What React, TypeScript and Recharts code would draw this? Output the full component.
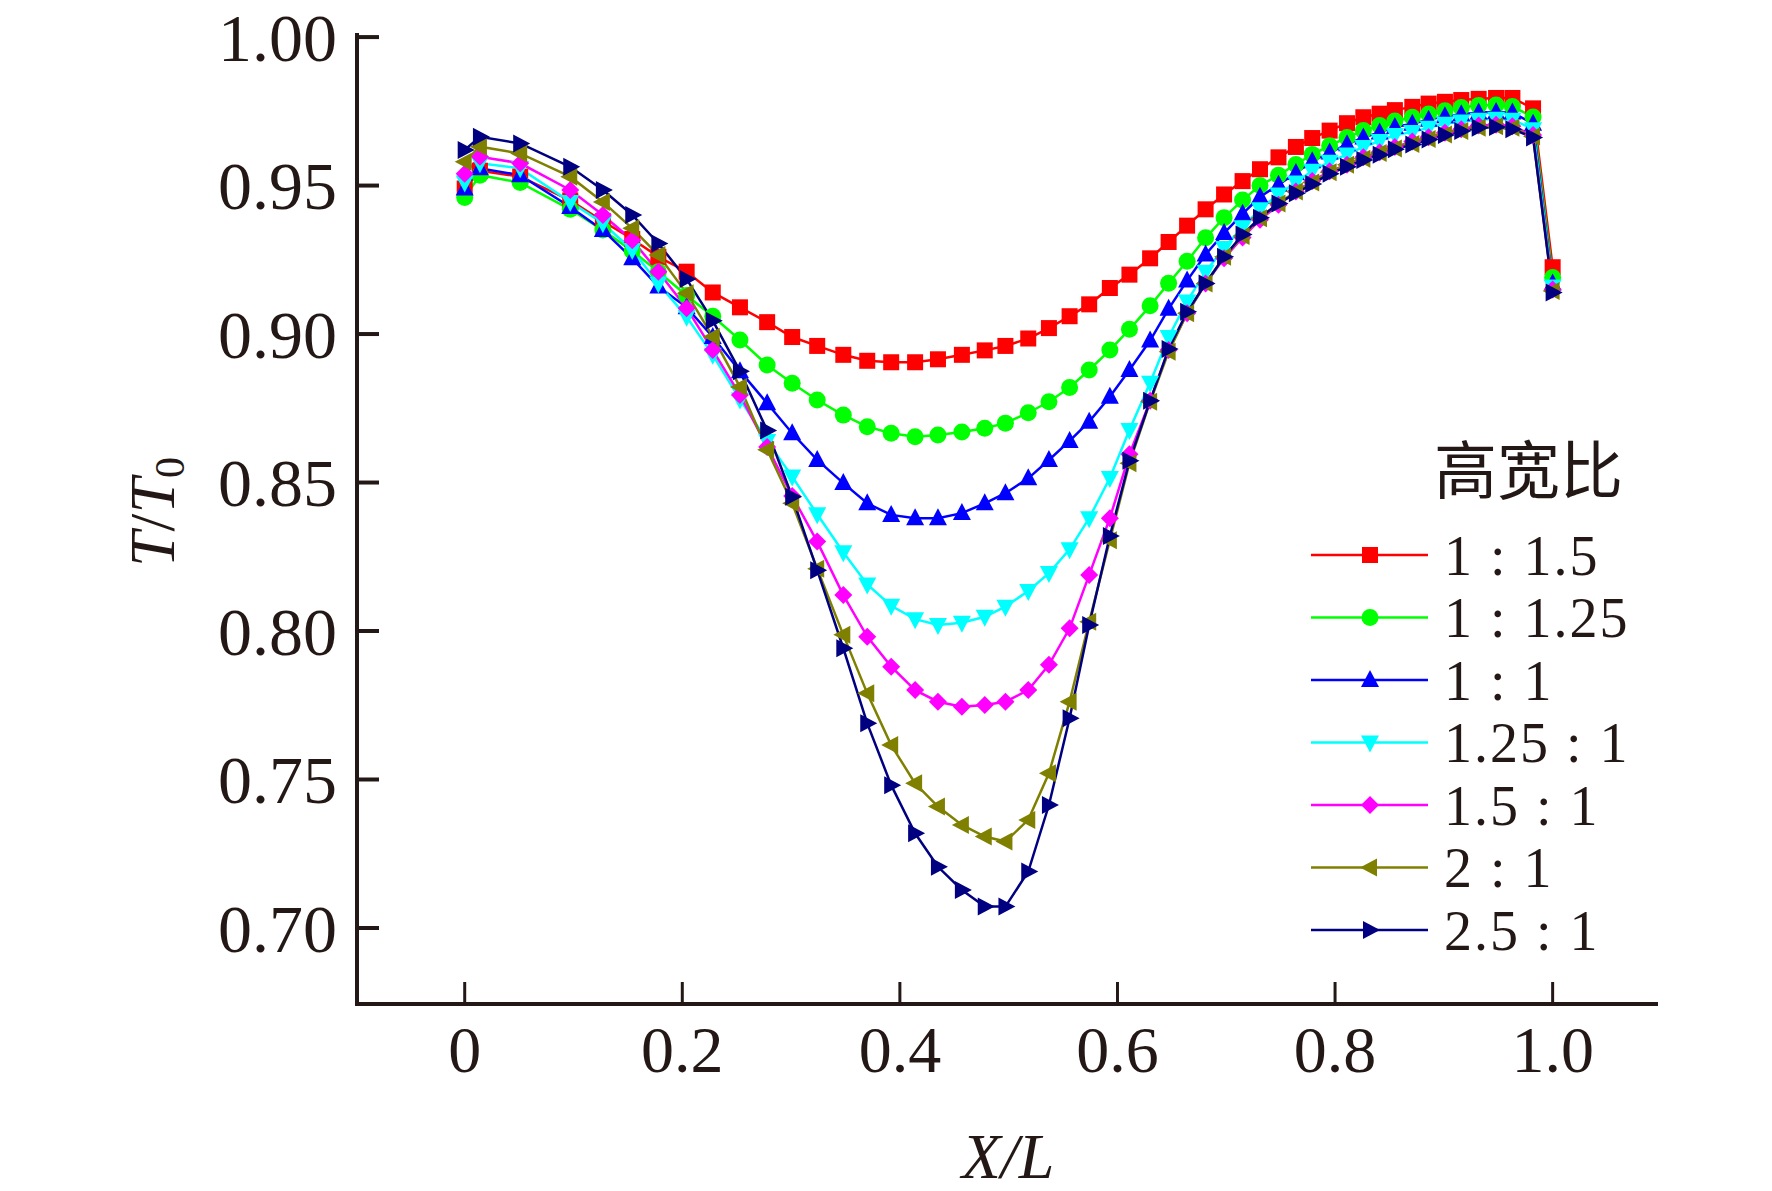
import { LineChart, Line, XAxis, YAxis } from 'recharts';

// X/L positions of the data points (shared by all series)
const xPos = [
  0, 0.014, 0.051, 0.097, 0.127, 0.154, 0.178, 0.204, 0.228, 0.253,
  0.278, 0.301, 0.324, 0.348, 0.370, 0.392, 0.414, 0.435, 0.457, 0.478,
  0.497, 0.518, 0.537, 0.556, 0.574, 0.593, 0.611, 0.630, 0.647, 0.664,
  0.681, 0.698, 0.715, 0.731, 0.748, 0.764, 0.779, 0.795, 0.811, 0.826,
  0.841, 0.855, 0.871, 0.886, 0.901, 0.916, 0.932, 0.948, 0.963, 0.982,
  1.0,
];

// T/T0 for each aspect ratio (高宽比)
const r1to15 = [
  0.949, 0.955, 0.953, 0.945, 0.938, 0.932, 0.926, 0.921, 0.914, 0.909,
  0.904, 0.899, 0.896, 0.893, 0.891, 0.8905, 0.8905, 0.8915, 0.893, 0.8945,
  0.896, 0.8985, 0.902, 0.906, 0.910, 0.9155, 0.920, 0.9255, 0.931, 0.9365,
  0.942, 0.947, 0.9515, 0.9555, 0.9595, 0.963, 0.966, 0.9685, 0.971, 0.973,
  0.9742, 0.9754, 0.9765, 0.9776, 0.9782, 0.9788, 0.9792, 0.9795, 0.9795, 0.976,
  0.9225,
];
const r1to125 = [
  0.946, 0.9535, 0.951, 0.942, 0.935, 0.928, 0.921, 0.913, 0.906, 0.898,
  0.8896, 0.8834, 0.8778, 0.8727, 0.8688, 0.8666, 0.8654, 0.866, 0.867, 0.8683,
  0.870, 0.8735, 0.8772, 0.882, 0.8879, 0.8946, 0.9016, 0.9095, 0.9171, 0.9245,
  0.9324, 0.9392, 0.9451, 0.950, 0.9535, 0.9571, 0.9605, 0.9634, 0.9662, 0.9685,
  0.9702, 0.9717, 0.973, 0.9741, 0.9752, 0.9763, 0.977, 0.9771, 0.9766, 0.9731,
  0.919,
];
const r1to1 = [
  0.949, 0.9558, 0.9535, 0.9428, 0.935, 0.9255, 0.916, 0.909, 0.899, 0.8875,
  0.8767, 0.8666, 0.8576, 0.8498, 0.843, 0.8391, 0.838, 0.838, 0.8397, 0.843,
  0.8464, 0.8514, 0.8576, 0.864, 0.8705, 0.8789, 0.8879, 0.8978, 0.9085, 0.918,
  0.9268, 0.934, 0.9405, 0.9462, 0.9503, 0.9542, 0.9582, 0.9611, 0.9639, 0.9662,
  0.9679, 0.9697, 0.9708, 0.9722, 0.9733, 0.974, 0.9746, 0.9748, 0.9746, 0.9708,
  0.917,
];
const r125to1 = [
  0.951, 0.9575, 0.9558, 0.9445, 0.9373, 0.9283, 0.917, 0.9058, 0.893, 0.878,
  0.864, 0.852, 0.8393, 0.8265, 0.8157, 0.8085, 0.804, 0.802, 0.8028, 0.8048,
  0.8082, 0.8135, 0.8195, 0.8275, 0.838, 0.8515, 0.8677, 0.8836, 0.899, 0.911,
  0.921, 0.929, 0.936, 0.942, 0.947, 0.951, 0.955, 0.958, 0.9605, 0.963,
  0.965, 0.967, 0.968, 0.9695, 0.9708, 0.9716, 0.9722, 0.9725, 0.9722, 0.969,
  0.916,
];
const r15to1 = [
  0.954, 0.9597, 0.9575, 0.9485, 0.9401, 0.9316, 0.921, 0.9087, 0.8946, 0.8795,
  0.862, 0.8455, 0.8301, 0.8121, 0.7981, 0.788, 0.7801, 0.7762, 0.7745, 0.7751,
  0.7762, 0.7801, 0.7886, 0.8009, 0.8189, 0.838, 0.8595, 0.8775, 0.8946, 0.907,
  0.917, 0.9255, 0.9325, 0.9385, 0.9435, 0.948, 0.9515, 0.9548, 0.957, 0.9595,
  0.9612, 0.963, 0.9648, 0.9663, 0.9678, 0.969, 0.9702, 0.9705, 0.970, 0.967,
  0.915,
];
const r2to1 = [
  0.958, 0.9631, 0.9608, 0.953, 0.9445, 0.9356, 0.9266, 0.9137, 0.8991, 0.8822,
  0.861, 0.843, 0.821, 0.7987, 0.779, 0.7616, 0.7487, 0.7409, 0.7347, 0.7308,
  0.7291, 0.7364, 0.7521, 0.7762, 0.8031, 0.8306, 0.8565, 0.8772, 0.894, 0.907,
  0.917, 0.926, 0.933, 0.939, 0.944, 0.948, 0.951, 0.9545, 0.957, 0.959,
  0.961, 0.9625, 0.964, 0.9657, 0.9672, 0.9684, 0.9695, 0.970, 0.9695, 0.9665,
  0.9145,
];
const r25to1 = [
  0.962, 0.9664, 0.9642, 0.9563, 0.9485, 0.9401, 0.9305, 0.9185, 0.9045, 0.8875,
  0.8675, 0.8452, 0.8205, 0.7942, 0.7689, 0.7481, 0.7319, 0.7206, 0.7128, 0.7072,
  0.7072, 0.719, 0.7414, 0.7706, 0.802, 0.832, 0.8573, 0.8775, 0.895, 0.9075,
  0.917, 0.926, 0.9335, 0.9392, 0.944, 0.9474, 0.9505, 0.954, 0.9563, 0.9586,
  0.9604, 0.9622, 0.9638, 0.9655, 0.967, 0.9684, 0.9695, 0.9697, 0.969, 0.9662,
  0.914,
];

const seriesValues = [r1to15, r1to125, r1to1, r125to1, r15to1, r2to1, r25to1];
const seriesNames = ['1 : 1.5', '1 : 1.25', '1 : 1', '1.25 : 1', '1.5 : 1', '2 : 1', '2.5 : 1'];
const seriesColors = ['#ff0000', '#00ff00', '#0000ff', '#00ffff', '#ff00ff', '#808000', '#000080'];
const seriesShapes = ['square', 'circle', 'up', 'down', 'diamond', 'left', 'right'];

const xTicks = [0, 0.2, 0.4, 0.6, 0.8, 1.0];
const yTicks = [0.7, 0.75, 0.8, 0.85, 0.9, 0.95, 1.0];

const legendTitle = '高宽比';

const data = xPos.map((x, i) => {
  const row: any = { x };
  seriesValues.forEach((vals, s) => {
    row['s' + s] = vals[i];
  });
  return row;
});

const ink = '#231815';
const serif = '"Liberation Serif", "Times New Roman", serif';

function Marker({ cx, cy, shape, color }: any) {
  if (cx == null || cy == null) return null;
  const r = 9;
  switch (shape) {
    case 'square':
      return <rect x={cx - 8} y={cy - 8} width={16} height={16} fill={color} />;
    case 'circle':
      return <circle cx={cx} cy={cy} r={8.5} fill={color} />;
    case 'up':
      return <polygon points={`${cx},${cy - r - 1} ${cx - r},${cy + r - 2} ${cx + r},${cy + r - 2}`} fill={color} />;
    case 'down':
      return <polygon points={`${cx},${cy + r + 1} ${cx - r},${cy - r + 2} ${cx + r},${cy - r + 2}`} fill={color} />;
    case 'diamond':
      return <polygon points={`${cx},${cy - r} ${cx + r},${cy} ${cx},${cy + r} ${cx - r},${cy}`} fill={color} />;
    case 'left':
      return <polygon points={`${cx - r - 1},${cy} ${cx + r - 2},${cy - r} ${cx + r - 2},${cy + r}`} fill={color} />;
    case 'right':
      return <polygon points={`${cx + r + 1},${cy} ${cx - r + 2},${cy - r} ${cx - r + 2},${cy + r}`} fill={color} />;
    default:
      return null;
  }
}

const YTick = ({ x, y, payload }: any) => (
  <g>
    <line x1={x} x2={x + 22} y1={y} y2={y} stroke={ink} strokeWidth={4} />
    <text x={x - 20} y={y} dy="0.35em" textAnchor="end" fontSize={68} fontFamily={serif} fill={ink}>
      {Number(payload.value).toFixed(2)}
    </text>
  </g>
);

const XTick = ({ x, y, payload }: any) => (
  <g>
    <line x1={x} x2={x} y1={y} y2={y - 22} stroke={ink} strokeWidth={3} />
    <text x={x} y={y + 68} textAnchor="middle" fontSize={66} fontFamily={serif} fill={ink}>
      {payload.value === 0 ? '0' : Number(payload.value).toFixed(1)}
    </text>
  </g>
);

export default function App() {
  return (
    <div style={{ position: 'absolute', left: 0, top: 0, width: 1772, height: 1191, background: '#fff' }}>
      <LineChart
        width={1772}
        height={1191}
        data={data}
        margin={{ top: 35, right: 116, bottom: 0, left: 0 }}
      >
        <XAxis
          dataKey="x"
          type="number"
          domain={[-0.099, 1.095]}
          ticks={xTicks}
          interval={0}
          height={187}
          tickSize={0}
          tickMargin={0}
          tickLine={false}
          tick={<XTick />}
          axisLine={{ stroke: ink, strokeWidth: 4, strokeLinecap: 'square' }}
        />
        <XAxis
          xAxisId="top"
          orientation="top"
          type="number"
          domain={[-0.099, 1.095]}
          height={0}
          tick={false}
          tickLine={false}
          axisLine={{ stroke: ink, strokeWidth: 3, strokeLinecap: 'square' }}
        />
        <YAxis
          type="number"
          domain={[0.6744, 1.0007]}
          ticks={yTicks}
          interval={0}
          width={357}
          tickSize={0}
          tickMargin={0}
          tickLine={false}
          tick={<YTick />}
          axisLine={{ stroke: ink, strokeWidth: 4, strokeLinecap: 'square' }}
        />
        <YAxis
          yAxisId="right"
          orientation="right"
          type="number"
          domain={[0.6744, 1.0007]}
          width={0}
          tick={false}
          tickLine={false}
          axisLine={{ stroke: ink, strokeWidth: 3, strokeLinecap: 'square' }}
        />
        {seriesNames.map((name, s) => (
          <Line
            key={name}
            name={name}
            dataKey={'s' + s}
            type="linear"
            stroke={seriesColors[s]}
            strokeWidth={2.5}
            isAnimationActive={false}
            dot={(p: any) => (
              <Marker key={`${s}-${p.index}`} cx={p.cx} cy={p.cy} shape={seriesShapes[s]} color={seriesColors[s]} />
            )}
            activeDot={false}
          />
        ))}
      </LineChart>

      {/* axis titles and legend */}
      <svg width={1772} height={1191} style={{ position: 'absolute', left: 0, top: 0, pointerEvents: 'none' }}>
        <text
          transform="translate(152,512) rotate(-90)"
          textAnchor="middle"
          dy="0.35em"
          fontSize={64}
          fontFamily={serif}
          fill={ink}
        >
          <tspan fontStyle="italic">T</tspan>
          <tspan>/</tspan>
          <tspan fontStyle="italic">T</tspan>
          <tspan fontSize={42} dy={10}>0</tspan>
        </text>
        <text x={1008} y={1178} textAnchor="middle" fontSize={64} fontFamily={serif} fontStyle="italic" fill={ink}>
          X/L
        </text>

        <text x={1434} y={471} dy="0.35em" fontSize={63} fontFamily='"Noto Sans CJK SC", sans-serif' fill={ink}>
          {legendTitle}
        </text>
        {seriesNames.map((name, s) => {
          const y = 555 + s * 62.5;
          return (
            <g key={name}>
              <line x1={1311} x2={1428} y1={y} y2={y} stroke={seriesColors[s]} strokeWidth={2.5} />
              <Marker cx={1370} cy={y} shape={seriesShapes[s]} color={seriesColors[s]} />
              <text x={1444} y={y} dy="0.35em" fontSize={56} letterSpacing={2} fontFamily={serif} fill={ink}>
                {name}
              </text>
            </g>
          );
        })}
      </svg>
    </div>
  );
}
